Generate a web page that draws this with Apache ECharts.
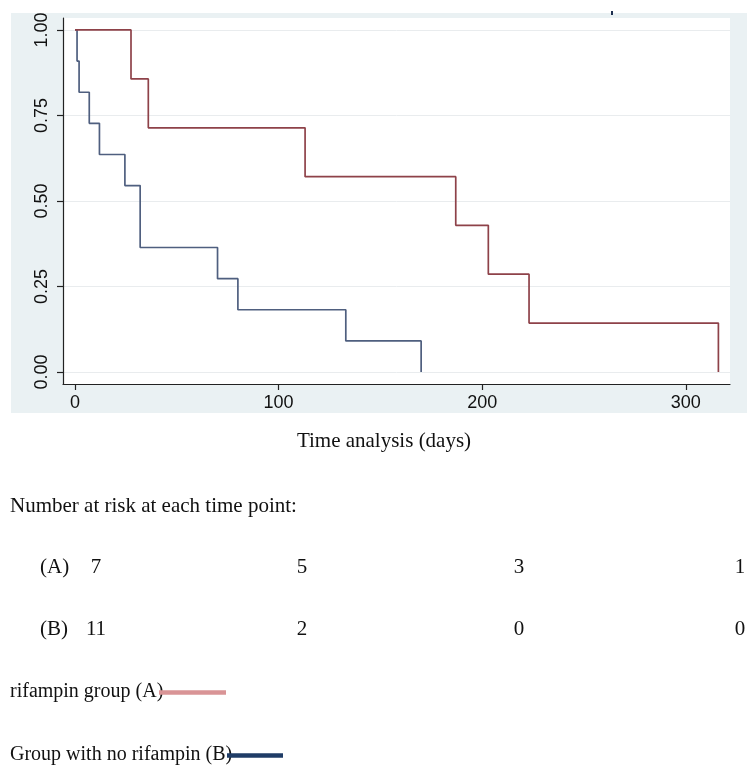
<!DOCTYPE html>
<html>
<head>
<meta charset="utf-8">
<script src="https://cdn.jsdelivr.net/npm/echarts@6/dist/echarts.min.js"></script>
<style>html,body{margin:0;padding:0;background:#fff}#c{width:747px;height:766px}</style>
</head>
<body>
<div id="c"></div>
<script>
// ---- data ----
var timesA = [0, 27.5, 36, 113, 187, 203, 223, 316];
var survA  = [1.0, 0.857, 0.714, 0.571, 0.429, 0.286, 0.143, 0.0];
var timesB = [0, 1, 2, 7, 12, 24.5, 32, 70, 80, 133, 170];
var survB  = [1.0, 0.909, 0.818, 0.727, 0.636, 0.545, 0.364, 0.273, 0.182, 0.091, 0.0];
var xTicks = [0, 100, 200, 300];
var yTicks = [0, 0.25, 0.5, 0.75, 1.0];
var riskA = [7, 5, 3, 1];
var riskB = [11, 2, 0, 0];
var nameA = 'rifampin group (A)';
var nameB = 'Group with no rifampin (B)';
var xTitle = 'Time analysis (days)';
var riskTitle = 'Number at risk at each time point:';

function pairs(t, s) { return t.map(function (v, i) { return [v, s[i]]; }); }

var chart = echarts.init(document.getElementById('c'));
var serif = '"Liberation Serif", "Times New Roman", serif';
var sans = '"Liberation Sans", Arial, Helvetica, sans-serif';
var riskCols = [96, 302, 519, 740];

var graphics = [
  { type: 'rect', z: -10, shape: { x: 11, y: 13, width: 736, height: 400 }, style: { fill: '#eaf1f3' }, silent: true },
  { type: 'rect', z: 10, shape: { x: 611, y: 11, width: 2, height: 4 }, style: { fill: '#1e2f4f' } },
  { type: 'text', style: { text: xTitle, x: 384, y: 441, font: '21px ' + serif, fill: '#111', align: 'center', verticalAlign: 'middle' } },
  { type: 'text', style: { text: riskTitle, x: 10, y: 506, font: '21px ' + serif, fill: '#111', align: 'left', verticalAlign: 'middle' } },
  { type: 'text', style: { text: '(A)', x: 40, y: 567, font: '21px ' + serif, fill: '#111', align: 'left', verticalAlign: 'middle' } },
  { type: 'text', style: { text: '(B)', x: 40, y: 629, font: '21px ' + serif, fill: '#111', align: 'left', verticalAlign: 'middle' } },
  { type: 'text', style: { text: nameA, x: 10, y: 692, font: '20px ' + serif, fill: '#111', align: 'left', verticalAlign: 'middle' } },
  { type: 'text', style: { text: nameB, x: 10, y: 755, font: '20px ' + serif, fill: '#111', align: 'left', verticalAlign: 'middle' } },
  { type: 'line', shape: { x1: 159, y1: 692.5, x2: 226, y2: 692.5 }, style: { stroke: '#d99496', lineWidth: 4.5 } },
  { type: 'line', shape: { x1: 227, y1: 755.5, x2: 283, y2: 755.5 }, style: { stroke: '#1f3c66', lineWidth: 4.5 } }
];
riskA.forEach(function (v, i) {
  graphics.push({ type: 'text', style: { text: String(v), x: riskCols[i], y: 567, font: '21px ' + serif, fill: '#111', align: 'center', verticalAlign: 'middle' } });
});
riskB.forEach(function (v, i) {
  graphics.push({ type: 'text', style: { text: String(v), x: riskCols[i], y: 629, font: '21px ' + serif, fill: '#111', align: 'center', verticalAlign: 'middle' } });
});

chart.setOption({
  animation: false,
  backgroundColor: '#fff',
  grid: { left: 63, top: 18, width: 667, height: 366, show: true, backgroundColor: '#fff', borderWidth: 0, containLabel: false },
  xAxis: {
    type: 'value', min: -5.9, max: 321.7,
    axisLine: { show: true, onZero: false, lineStyle: { color: '#222', width: 1.2 } },
    axisTick: { show: true, length: 6, customValues: xTicks, lineStyle: { color: '#222', width: 1.2 } },
    axisLabel: { customValues: xTicks, margin: 10, fontSize: 18, fontFamily: sans, color: '#111' },
    splitLine: { show: false }
  },
  yAxis: {
    type: 'value', min: -0.035, max: 1.035,
    axisLine: { show: true, onZero: false, lineStyle: { color: '#222', width: 1.2 } },
    axisTick: { show: true, length: 6, customValues: yTicks, lineStyle: { color: '#222', width: 1.2 } },
    axisLabel: { customValues: yTicks, rotate: 90, margin: 12, fontSize: 18, fontFamily: sans, color: '#111',
      formatter: function (v) { return Number(v).toFixed(2); } },
    splitLine: { show: true, lineStyle: { color: '#e9ecee', width: 1 } }
  },
  series: [
    { name: nameA, type: 'line', step: 'end', showSymbol: false, symbol: 'none', data: pairs(timesA, survA),
      lineStyle: { color: '#8e4249', width: 1.7 }, z: 3 },
    { name: nameB, type: 'line', step: 'end', showSymbol: false, symbol: 'none', data: pairs(timesB, survB),
      lineStyle: { color: '#4f5f7f', width: 1.7 }, z: 2 }
  ],
  graphic: graphics
});
</script>
</body>
</html>
